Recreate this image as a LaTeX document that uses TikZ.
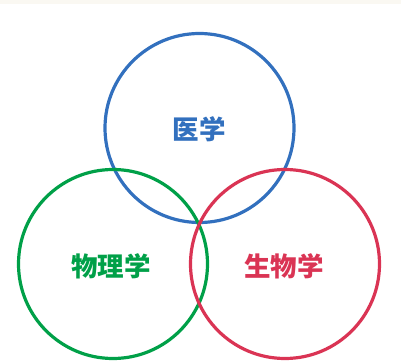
\documentclass[tikz,border=0pt]{standalone}
\usepackage{fontspec}
\newfontfamily\cjk{Noto Sans CJK SC}
\definecolor{cblue}{RGB}{50,112,190}
\definecolor{cgreen}{RGB}{0,160,72}
\definecolor{cred}{RGB}{218,52,84}
\definecolor{strip}{RGB}{250,248,242}
\tikzset{ring/.style={draw=#1, line width=3.2pt, circle, minimum size=189pt, inner sep=0pt},
  lbl/.style={text=#1, font=\cjk\bfseries\fontsize{26.5}{26.5}\selectfont, inner sep=0pt}}
\begin{document}
\begin{tikzpicture}[x=1pt,y=-1pt]
\useasboundingbox (0,0) rectangle (401,363);
\fill[strip] (0,0) rectangle (401,4.5);
\node[ring=cblue] (med) at (199.5,128) {};
\node[ring=cgreen] (phy) at (113,264) {};
\node[ring=cred] (bio) at (285,264) {};
\node[lbl=cblue] (tmed) at (199,129) {医学};
\node[lbl=cgreen] (tphy) at (111,266) {物理学};
\node[lbl=cred] (tbio) at (284,266) {生物学};
\end{tikzpicture}
\end{document}
